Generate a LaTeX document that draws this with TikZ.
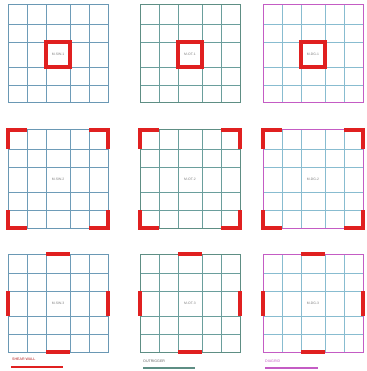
\documentclass[tikz,border=0pt]{standalone}
\usepackage{fontspec}
\setmainfont{Liberation Sans}
\definecolor{wallred}{HTML}{E02020}
\definecolor{swline}{HTML}{6E9CB8}
\definecolor{otline}{HTML}{6A9E9C}
\definecolor{dgline}{HTML}{88BCD0}
\definecolor{swborder}{HTML}{6A98B4}
\definecolor{otborder}{HTML}{5E8E84}
\definecolor{dgborder}{HTML}{C45CC4}
\begin{document}
\begin{tikzpicture}[x=1pt,y=-1pt,
  gridline/.style={line width=0.55pt},
  frameline/.style={line width=1pt},
  wall/.style={line width=3.2pt, color=wallred},
  lbl/.style={font=\fontsize{3.4}{4}\selectfont, text=black!50, inner sep=0pt},
  legtext/.style={font=\fontsize{3.6}{4}\selectfont, inner sep=0pt, anchor=west},
  legline/.style={line width=1.2pt}]
\useasboundingbox[fill=white] (0,0) rectangle (366,371);
\foreach \ox/\lc/\bc/\code in {8/swline/swborder/SW,140/otline/otborder/OT,263/dgline/dgborder/DG}{
  \foreach \oy/\n in {5/1,130/2,254/3}{
    \begin{scope}[shift={(\ox,\oy)}]
      \foreach \x in {19,38,62,81} \draw[gridline,\lc] (\x,0) -- (\x,98);
      \foreach \y in {19,37,62,80} \draw[gridline,\lc] (0,\y) -- (100,\y);
      \draw[frameline,\bc] (0,0) rectangle (100,98);
      \node[lbl] (lab-\code-\n) at (50,49.5) {M-\code-\n};
    \end{scope}
  }
}
% row 1: central core
\foreach \ox in {8,140,263}{
  \begin{scope}[shift={(\ox,5)}]
    \draw[wall] (38,37) rectangle (62,62);
  \end{scope}
}
% row 2: corner walls
\foreach \ox in {8,140,263}{
  \begin{scope}[shift={(\ox,130)}]
    \draw[wall] (0,19) -- (0,0) -- (19,0);
    \draw[wall] (81,0) -- (100,0) -- (100,19);
    \draw[wall] (0,80) -- (0,98) -- (19,98);
    \draw[wall] (81,98) -- (100,98) -- (100,80);
  \end{scope}
}
% row 3: mid-side walls
\foreach \ox in {8,140,263}{
  \begin{scope}[shift={(\ox,254)}]
    \draw[wall] (38,0) -- (62,0);
    \draw[wall] (38,98) -- (62,98);
    \draw[wall] (0,37) -- (0,62);
    \draw[wall] (100,37) -- (100,62);
  \end{scope}
}
% legend
\node[legtext, text=wallred!80!black] (leg-sw) at (12,359) {SHEAR WALL};
\coordinate (sw-a) at (11,367); \coordinate (sw-b) at (63,367);
\draw[wall, line width=2.6pt] (sw-a) -- (sw-b);
\node[legtext, text=black!60] (leg-ot) at (143,361) {OUTRIGGER};
\coordinate (ot-a) at (143,368); \coordinate (ot-b) at (195,368);
\draw[legline, otborder] (ot-a) -- (ot-b);
\node[legtext, text=dgborder] (leg-dg) at (265,361) {DIAGRID};
\coordinate (dg-a) at (265,368); \coordinate (dg-b) at (318,368);
\draw[legline, dgborder] (dg-a) -- (dg-b);
\end{tikzpicture}
\end{document}
